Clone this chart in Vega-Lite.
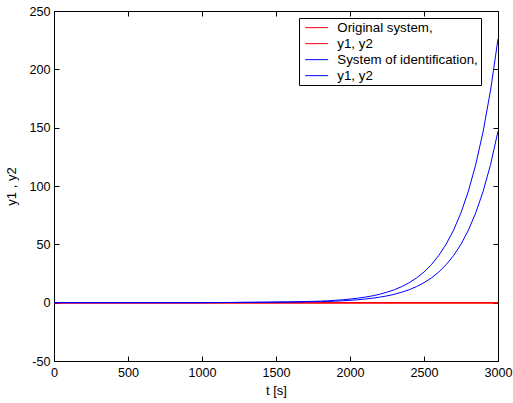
{
  "$schema": "https://vega.github.io/schema/vega-lite/v6.json",
  "autosize": "none",
  "padding": {"left": 54, "top": 11, "right": 15, "bottom": 42},
  "width": 444,
  "height": 350,
  "background": "white",
  "view": {"stroke": "black", "strokeWidth": 1},
  "config": {
    "font": "Liberation Sans",
    "axis": {
      "grid": false,
      "domainColor": "black",
      "tickColor": "black",
      "labelColor": "black",
      "titleColor": "black",
      "labelFont": "Liberation Sans",
      "titleFont": "Liberation Sans",
      "labelFontSize": 12.6,
      "titleFontSize": 13,
      "titleFontWeight": "normal",
      "tickSize": -5,
      "labelExpr": "toString(datum.value)"
    },
    "legend": {
      "labelFont": "Liberation Sans",
      "labelFontSize": 13.3,
      "labelColor": "black"
    }
  },
  "datasets": {
    "original": [
      {"t": 0, "y": 0, "series": "Original system, y1"},
      {"t": 1500, "y": 0, "series": "Original system, y1"},
      {"t": 3000, "y": 0, "series": "Original system, y1"},
      {"t": 0, "y": 0, "series": "Original system, y2"},
      {"t": 1500, "y": 0, "series": "Original system, y2"},
      {"t": 3000, "y": 0, "series": "Original system, y2"}
    ],
    "identified": [
      {"t": 0, "y": 0, "series": "System of identification, y1"},
      {"t": 1000, "y": 0, "series": "System of identification, y1"},
      {"t": 1200, "y": 0.2, "series": "System of identification, y1"},
      {"t": 1400, "y": 0.4, "series": "System of identification, y1"},
      {"t": 1600, "y": 0.7, "series": "System of identification, y1"},
      {"t": 1800, "y": 1.3, "series": "System of identification, y1"},
      {"t": 1850, "y": 1.6, "series": "System of identification, y1"},
      {"t": 1900, "y": 2.0, "series": "System of identification, y1"},
      {"t": 1950, "y": 2.5, "series": "System of identification, y1"},
      {"t": 2000, "y": 3.1, "series": "System of identification, y1"},
      {"t": 2050, "y": 3.8, "series": "System of identification, y1"},
      {"t": 2100, "y": 4.7, "series": "System of identification, y1"},
      {"t": 2150, "y": 5.8, "series": "System of identification, y1"},
      {"t": 2200, "y": 7.2, "series": "System of identification, y1"},
      {"t": 2250, "y": 9.0, "series": "System of identification, y1"},
      {"t": 2300, "y": 11.1, "series": "System of identification, y1"},
      {"t": 2350, "y": 13.8, "series": "System of identification, y1"},
      {"t": 2400, "y": 17.1, "series": "System of identification, y1"},
      {"t": 2450, "y": 21.2, "series": "System of identification, y1"},
      {"t": 2500, "y": 26.3, "series": "System of identification, y1"},
      {"t": 2550, "y": 32.6, "series": "System of identification, y1"},
      {"t": 2600, "y": 40.5, "series": "System of identification, y1"},
      {"t": 2650, "y": 50.2, "series": "System of identification, y1"},
      {"t": 2700, "y": 62.2, "series": "System of identification, y1"},
      {"t": 2750, "y": 77.1, "series": "System of identification, y1"},
      {"t": 2800, "y": 95.6, "series": "System of identification, y1"},
      {"t": 2850, "y": 118.6, "series": "System of identification, y1"},
      {"t": 2900, "y": 147.0, "series": "System of identification, y1"},
      {"t": 2950, "y": 182.3, "series": "System of identification, y1"},
      {"t": 3000, "y": 226.0, "series": "System of identification, y1"},
      {"t": 0, "y": 0, "series": "System of identification, y2"},
      {"t": 1000, "y": 0, "series": "System of identification, y2"},
      {"t": 1200, "y": 0.15, "series": "System of identification, y2"},
      {"t": 1400, "y": 0.3, "series": "System of identification, y2"},
      {"t": 1600, "y": 0.5, "series": "System of identification, y2"},
      {"t": 1800, "y": 0.85, "series": "System of identification, y2"},
      {"t": 1850, "y": 1.05, "series": "System of identification, y2"},
      {"t": 1900, "y": 1.3, "series": "System of identification, y2"},
      {"t": 1950, "y": 1.6, "series": "System of identification, y2"},
      {"t": 2000, "y": 2.0, "series": "System of identification, y2"},
      {"t": 2050, "y": 2.5, "series": "System of identification, y2"},
      {"t": 2100, "y": 3.1, "series": "System of identification, y2"},
      {"t": 2150, "y": 3.8, "series": "System of identification, y2"},
      {"t": 2200, "y": 4.7, "series": "System of identification, y2"},
      {"t": 2250, "y": 5.8, "series": "System of identification, y2"},
      {"t": 2300, "y": 7.2, "series": "System of identification, y2"},
      {"t": 2350, "y": 9.0, "series": "System of identification, y2"},
      {"t": 2400, "y": 11.1, "series": "System of identification, y2"},
      {"t": 2450, "y": 13.8, "series": "System of identification, y2"},
      {"t": 2500, "y": 17.1, "series": "System of identification, y2"},
      {"t": 2550, "y": 21.2, "series": "System of identification, y2"},
      {"t": 2600, "y": 26.3, "series": "System of identification, y2"},
      {"t": 2650, "y": 32.6, "series": "System of identification, y2"},
      {"t": 2700, "y": 40.4, "series": "System of identification, y2"},
      {"t": 2750, "y": 50.1, "series": "System of identification, y2"},
      {"t": 2800, "y": 62.2, "series": "System of identification, y2"},
      {"t": 2850, "y": 77.1, "series": "System of identification, y2"},
      {"t": 2900, "y": 95.6, "series": "System of identification, y2"},
      {"t": 2950, "y": 118.5, "series": "System of identification, y2"},
      {"t": 3000, "y": 147.0, "series": "System of identification, y2"}
    ]
  },
  "resolve": {"axis": {"x": "independent", "y": "independent"}},
  "layer": [
    {
      "data": {"name": "original"},
      "mark": {"type": "line", "strokeWidth": 1.5, "clip": true},
      "encoding": {
        "x": {"field": "t", "type": "quantitative", "scale": {"domain": [0, 3000], "nice": false, "zero": false},
              "axis": {"orient": "top", "title": null, "labels": false, "values": [0, 500, 1000, 1500, 2000, 2500, 3000], "domain": false}},
        "y": {"field": "y", "type": "quantitative", "scale": {"domain": [-50, 250], "nice": false, "zero": false},
              "axis": {"orient": "right", "title": null, "labels": false, "values": [-50, 0, 50, 100, 150, 200, 250], "domain": false}},
        "color": {"field": "series", "type": "nominal",
                  "scale": {"domain": ["Original system, y1", "Original system, y2", "System of identification, y1", "System of identification, y2"],
                            "range": ["#ff0000", "#ff0000", "#0000ff", "#0000ff"]},
                  "legend": {"orient": "none", "legendX": 245, "legendY": 7, "title": null,
                             "strokeColor": "black", "fillColor": "white", "padding": 3,
                             "symbolType": "M-2,0H2", "symbolSize": 132, "symbolStrokeWidth": 1,
                             "symbolOffset": 8, "labelOffset": 14, "rowPadding": 2,
                             "labelExpr": "datum.value == 'Original system, y1' ? 'Original system,' : datum.value == 'System of identification, y1' ? 'System of identification,' : 'y1, y2'"}}
      }
    },
    {
      "data": {"name": "identified"},
      "mark": {"type": "line", "strokeWidth": 1, "clip": true},
      "encoding": {
        "x": {"field": "t", "type": "quantitative",
              "axis": {"orient": "bottom", "title": "t [s]", "values": [0, 500, 1000, 1500, 2000, 2500, 3000], "labelPadding": 10, "titlePadding": 6, "labelFlush": false}},
        "y": {"field": "y", "type": "quantitative",
              "axis": {"orient": "left", "title": "y1 , y2", "values": [-50, 0, 50, 100, 150, 200, 250], "labelPadding": 9, "titlePadding": 10}},
        "color": {"field": "series", "type": "nominal"}
      }
    }
  ]
}
